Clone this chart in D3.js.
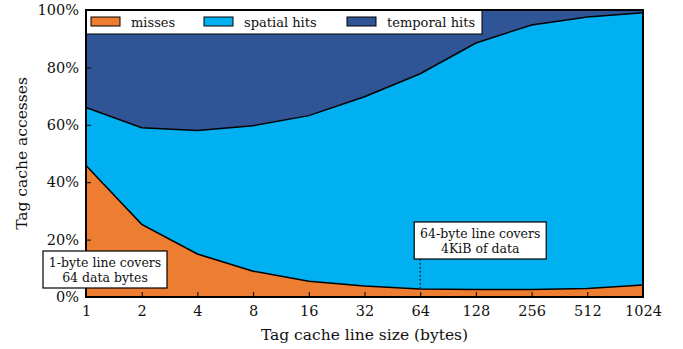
<!DOCTYPE html>
<html>
<head>
<meta charset="utf-8">
<script src="https://cdn.jsdelivr.net/npm/d3@7"></script>
<style>
  body { margin: 0; background: #fff; }
  svg text { font-family: "DejaVu Serif", "Liberation Serif", serif; }
</style>
</head>
<body>
<div id="chart"></div>
<script>
// line sizes in bytes
const lineSizes = [1, 2, 4, 8, 16, 32, 64, 128, 256, 512, 1024];
// percent of tag cache accesses
const misses = [45.8, 25.3, 15.0, 9.0, 5.5, 3.8, 2.8, 2.6, 2.6, 3.0, 4.2];
const spatialHits = [20.2, 33.7, 43.0, 50.7, 57.7, 66.0, 75.0, 85.9, 92.2, 94.6, 94.8];
const temporalHits = [34.0, 41.0, 42.0, 40.3, 36.8, 30.2, 22.2, 11.5, 5.2, 2.4, 1.0];
const yTicks = [0, 20, 40, 60, 80, 100];
const seriesKeys = ["misses", "spatial", "temporal"];
const seriesNames = ["misses", "spatial hits", "temporal hits"];
const colors = ["#ED7D31", "#00B0F0", "#2F5597"];

const width = 683, height = 349;
const margin = {top: 10, right: 40, bottom: 52, left: 86};
const w = width - margin.left - margin.right;
const h = height - margin.top - margin.bottom;

const rows = lineSizes.map((s, i) => ({
  size: s, misses: misses[i], spatial: spatialHits[i], temporal: temporalHits[i]
}));

const svg = d3.select("#chart").append("svg")
  .attr("width", width)
  .attr("height", height);

const g = svg.append("g")
  .attr("transform", "translate(" + margin.left + "," + margin.top + ")");

const x = d3.scaleLog().base(2)
  .domain([1, 1024])
  .range([0, w]);

const y = d3.scaleLinear()
  .domain([0, 100])
  .range([h, 0]);

const stacked = d3.stack().keys(seriesKeys)(rows);

const area = d3.area()
  .x(d => x(d.data.size))
  .y0(d => y(d[0]))
  .y1(d => y(d[1]));

// stacked areas
g.selectAll(".layer")
  .data(stacked)
  .enter()
  .append("path")
  .attr("class", "layer")
  .attr("d", area)
  .attr("fill", (d, i) => colors[i]);

// boundary lines between layers
const line = d3.line()
  .x(d => x(d.data.size))
  .y(d => y(d[1]));

g.selectAll(".edge")
  .data(stacked.slice(0, 2))
  .enter()
  .append("path")
  .attr("d", line)
  .attr("fill", "none")
  .attr("stroke", "#000")
  .attr("stroke-width", 1.5);

// x axis, ticks pointing inward
const xAxis = g.append("g")
  .attr("transform", "translate(0," + h + ")")
  .call(d3.axisBottom(x).tickValues(lineSizes).tickFormat(d3.format("d"))
    .tickSizeInner(-5).tickSizeOuter(0).tickPadding(9));
xAxis.attr("font-family", null);
xAxis.select(".domain").remove();
xAxis.selectAll("line").attr("stroke", "#000").attr("stroke-width", 1);
xAxis.selectAll("text")
  .style("font-size", "14.5px")
  .attr("fill", "#111");

const yAxis = g.append("g")
  .call(d3.axisLeft(y).tickValues(yTicks).tickFormat(d => d + "%")
    .tickSizeInner(-5).tickSizeOuter(0).tickPadding(7));
yAxis.attr("font-family", null);
yAxis.select(".domain").remove();
yAxis.selectAll("line").attr("stroke", "#000").attr("stroke-width", 1);
yAxis.selectAll("text")
  .style("font-size", "14.5px")
  .attr("fill", "#111");

// legend across the top left
const legend = g.append("g");
legend.append("rect")
  .attr("x", 0).attr("y", 0)
  .attr("width", 396).attr("height", 24)
  .attr("fill", "#fff")
  .attr("stroke", "#000")
  .attr("stroke-width", 1);

const legendX = [5, 118, 261];
seriesNames.forEach((name, i) => {
  legend.append("rect")
    .attr("x", legendX[i]).attr("y", 7)
    .attr("width", 29).attr("height", 9)
    .attr("fill", colors[i])
    .attr("stroke", "#000")
    .attr("stroke-width", 1);
  legend.append("text")
    .attr("x", legendX[i] + 40).attr("y", 16.5)
    .style("font-size", "13px")
    .attr("fill", "#111")
    .text(name);
});

// plot frame
g.append("rect")
  .attr("width", w).attr("height", h)
  .attr("fill", "none")
  .attr("stroke", "#000")
  .attr("stroke-width", 2);

// annotation boxes
function note(cx, top, lines, bw) {
  const bh = 37;
  g.append("rect")
    .attr("x", cx - bw / 2).attr("y", top)
    .attr("width", bw).attr("height", bh)
    .attr("fill", "#fff")
    .attr("stroke", "#000")
    .attr("stroke-width", 1.2);
  lines.forEach((t, i) => {
    g.append("text")
      .attr("x", cx).attr("y", top + 16 + i * 14.5)
      .attr("text-anchor", "middle")
      .style("font-size", "12.5px")
      .attr("fill", "#111")
      .text(t);
  });
  return top + bh;
}

note(x(1) + 19, 241, ["1-byte line covers", "64 data bytes"], 124);
const bottom2 = note(x(64) + 60, 212, ["64-byte line covers", "4KiB of data"], 132);

g.append("line")
  .attr("x1", x(64)).attr("x2", x(64))
  .attr("y1", bottom2).attr("y2", y(misses[6]))
  .attr("stroke", "#000")
  .attr("stroke-width", 1.2)
  .attr("stroke-dasharray", "1.5,2.5");

// axis titles
svg.append("text")
  .attr("x", margin.left + w / 2).attr("y", 340)
  .attr("text-anchor", "middle")
  .style("font-size", "15.5px")
  .attr("fill", "#111")
  .text("Tag cache line size (bytes)");

svg.append("text")
  .attr("transform", "translate(27," + (margin.top + h / 2) + ") rotate(-90)")
  .attr("text-anchor", "middle")
  .style("font-size", "15.5px")
  .attr("fill", "#111")
  .text("Tag cache accesses");
</script>
</body>
</html>
